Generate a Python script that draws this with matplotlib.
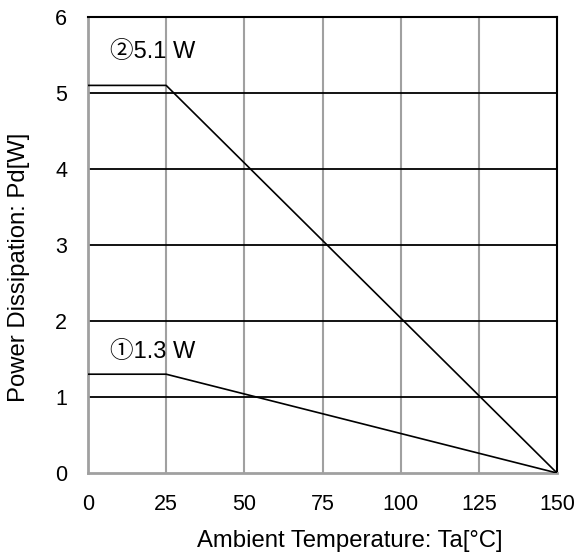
import matplotlib
matplotlib.use("Agg")
import matplotlib.pyplot as plt

plt.rcParams['font.family'] = ['Liberation Sans', 'DejaVu Sans']

temp = [0, 25, 150]
pd2 = [5.1, 5.1, 0]
pd1 = [1.3, 1.3, 0]
xticks = [0, 25, 50, 75, 100, 125, 150]
yticks = [0, 1, 2, 3, 4, 5, 6]
label2 = "②5.1 W"
label1 = "①1.3 W"

W, H = 577, 553
fig = plt.figure(figsize=(W / 100, H / 100), dpi=100)
ax = fig.add_axes([88 / W, 1 - 473 / H, (557 - 88) / W, (473 - 17) / H])
ax.set_xlim(0, 150)
ax.set_ylim(0, 6)

gray = '#a0a0a0'
for x in xticks[1:-1]:
    ax.axvline(x, color=gray, lw=1.5, zorder=1)
for y in yticks[1:-1]:
    ax.axhline(y, color='black', lw=1.3, zorder=1)

ax.plot(temp, pd2, color='black', lw=1.2, zorder=3)
ax.plot(temp, pd1, color='black', lw=1.2, zorder=3)

ann_family = ['Liberation Sans', 'Noto Sans CJK JP', 'DejaVu Sans']
ax.text(7, 5.46, label2, fontsize=17, va='baseline', ha='left', family=ann_family)
ax.text(7, 1.51, label1, fontsize=17, va='baseline', ha='left', family=ann_family)

ax.spines['left'].set_color(gray)
ax.spines['bottom'].set_color(gray)
ax.spines['left'].set_linewidth(2)
ax.spines['bottom'].set_linewidth(2)
ax.spines['top'].set_color('black')
ax.spines['right'].set_color('black')
ax.spines['top'].set_linewidth(1.5)
ax.spines['right'].set_linewidth(1.5)

ax.set_xticks(xticks)
ax.set_yticks(yticks)
ax.tick_params(length=0, labelsize=15.5)
ax.tick_params(axis='x', pad=15)
ax.tick_params(axis='y', pad=15)

fig.text(350 / W, 6 / H, "Ambient Temperature: Ta[°C]", fontsize=17.2,
         ha='center', va='baseline')
fig.text(19 / W, 1 - 267 / H, "Power Dissipation: Pd[W]", fontsize=17.2,
         ha='center', va='center', rotation=90)

fig.savefig("out.png", dpi=100)
